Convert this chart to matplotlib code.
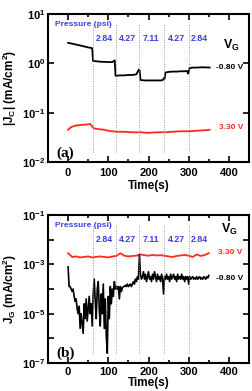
import numpy as np
import matplotlib
matplotlib.use("Agg")
import matplotlib.pyplot as plt
from matplotlib.ticker import FixedLocator, FuncFormatter, MultipleLocator

plt.rcParams['font.family'] = ['Liberation Sans', 'DejaVu Sans']
plt.rcParams['font.weight'] = 'bold'
plt.rcParams['mathtext.fontset'] = 'custom'
plt.rcParams['mathtext.rm'] = 'Liberation Sans:bold'
plt.rcParams['mathtext.it'] = 'Liberation Sans:bold'
plt.rcParams['mathtext.bf'] = 'Liberation Sans:bold'

# ---------------- data ----------------
# panel (a): |J_C| (mA/cm^2)
a_black_t = [0, 10, 20, 30, 40, 50, 58, 60, 62, 70, 80, 90, 100, 110, 114, 116, 118, 120, 130, 140,
             150, 160, 170, 174, 176, 178, 180, 190, 200, 210, 220, 230, 236, 238, 240, 242, 250, 260,
             270, 280, 290, 296, 298, 300, 302, 310, 320, 330, 340, 352]
a_black_v = [2.6, 2.5, 2.4, 2.3, 2.2, 2.1, 2.05, 2.0, 1.12, 1.1, 1.08, 1.07, 1.06, 1.06, 1.12, 1.15,
             0.56, 0.56, 0.57, 0.57, 0.58, 0.58, 0.6, 0.7, 0.75, 0.72, 0.46, 0.45, 0.45, 0.45, 0.45,
             0.45, 0.46, 0.5, 0.48, 0.65, 0.67, 0.68, 0.68, 0.69, 0.69, 0.7, 0.62, 0.65, 0.8, 0.82,
             0.82, 0.83, 0.83, 0.82]
a_red_t = [0, 5, 10, 20, 30, 40, 50, 55, 58, 62, 65, 70, 80, 90, 100, 110, 120, 140, 160, 180, 200,
           220, 240, 260, 280, 300, 320, 340, 352]
a_red_v = [0.045, 0.049, 0.052, 0.055, 0.056, 0.057, 0.058, 0.059, 0.055, 0.050, 0.048, 0.047, 0.046,
           0.045, 0.043, 0.042, 0.041, 0.041, 0.040, 0.040, 0.039, 0.040, 0.040, 0.041, 0.042, 0.042,
           0.043, 0.044, 0.045]

# panel (b): J_G (mA/cm^2), log10 values sampled every 2.5 s (black) and 10 s (red)
b_black_log = [-3.1, -3.9, -3.9, -4.0, -4.1, -4.0, -4.3, -4.5, -4.4, -4.8, -5.0, -4.7, -5.6, -5.0,
               -5.4, -5.8, -4.6, -5.2, -4.4, -5.3, -4.8, -4.3, -5.0, -4.6, -5.5, -4.2, -3.6, -4.5,
               -5.2, -4.0, -3.7, -4.8, -5.5, -4.2, -5.0, -3.8, -5.6, -4.4, -5.9, -6.6, -4.3, -5.2,
               -3.9, -4.6, -4.0, -4.3, -3.7, -4.0, -3.9, -4.0, -3.9, -4.4, -3.9, -4.1, -3.95, -3.9,
               -3.9, -3.85, -3.9, -3.8, -3.9, -3.85, -3.8, -3.9, -3.8, -3.7, -3.8, -3.6, -3.7, -3.5,
               -3.6, -2.6, -3.4, -3.6, -3.5, -3.3, -3.6, -3.4, -3.7, -3.5, -3.3, -3.6, -3.5, -3.7,
               -3.4, -3.6, -3.3, -3.5, -3.7, -3.4, -3.6, -3.5, -3.7, -3.4, -3.6, -4.2, -3.5, -3.6,
               -3.4, -3.6, -3.5, -3.7, -3.4, -3.6, -3.5, -3.4, -3.6, -3.5, -3.7, -3.4, -3.6, -3.5,
               -3.6, -3.4, -3.6, -3.5, -3.7, -3.5, -3.6, -3.5, -3.8, -3.5, -3.6, -3.55, -3.5, -3.6,
               -3.55, -3.6, -3.5, -3.6, -3.55, -3.5, -3.6, -3.55, -3.6, -3.5, -3.55, -3.6, -3.5,
               -3.55, -3.45]
b_black_dt = 2.5
b_red_log = [-2.55, -2.7, -2.68, -2.72, -2.7, -2.68, -2.72, -2.7, -2.68, -2.7, -2.72, -2.68, -2.66,
             -2.55, -2.65, -2.68, -2.66, -2.65, -2.6, -2.63, -2.65, -2.62, -2.64, -2.63, -2.65, -2.68,
             -2.7, -2.66, -2.64, -2.62, -2.65, -2.7, -2.6, -2.66, -2.62, -2.55]
b_red_dt = 10

# pressure steps
step_times = [61, 118, 176, 238, 300]
pressure_labels = ['2.84', '4.27', '7.11', '4.27', '2.84']
end_time = 355

# ---------------- figure ----------------
W, H = 252, 391
fig = plt.figure(figsize=(W / 100, H / 100), dpi=100)

def frac_box(l, t, r, b):
    return [l / W, 1 - b / H, (r - l) / W, (b - t) / H]

ax1 = fig.add_axes(frac_box(48, 14, 249, 162))
ax2 = fig.add_axes(frac_box(48, 215, 249, 363))

blue = '#3d3de6'
red = '#ff2a1a'

def sup(e):
    return r'$\mathbf{10^{%d}}$' % e

def style(ax, exps, labeled, xpad, lpad):
    ax.set_yscale('log')
    ax.set_xlim(-50, 450)
    ax.set_ylim(10.0 ** min(exps), 10.0 ** max(exps))
    ax.xaxis.set_major_locator(FixedLocator([0, 100, 200, 300, 400]))
    ax.xaxis.set_minor_locator(MultipleLocator(50))
    ax.yaxis.set_major_locator(FixedLocator([10.0 ** e for e in exps]))
    ax.yaxis.set_minor_locator(FixedLocator([]))
    ax.yaxis.set_major_formatter(FuncFormatter(
        lambda v, p: sup(int(round(np.log10(v)))) if int(round(np.log10(v))) in labeled else ''))
    ax.tick_params(which='both', direction='in', top=True, right=True, width=1.2,
                   labelsize=8)
    ax.tick_params(axis='x', pad=xpad)
    ax.tick_params(axis='y', pad=2)
    ax.tick_params(which='major', length=4)
    ax.tick_params(which='minor', length=2.5)
    for s in ax.spines.values():
        s.set_linewidth(1.5)
    ax.set_xlabel('Time(s)', fontsize=8.5, fontweight='bold', labelpad=lpad)
    for t in step_times:
        ax.axvline(t, ymin=0.07, ymax=0.93, color='#999999', lw=0.7, ls=(0, (1, 1.5)))
    ax.text(-32, 0.93, 'Pressure (psi)', transform=ax.get_xaxis_transform(), color=blue,
            fontsize=6, fontweight='bold', ha='left', va='center')
    bounds = step_times + [end_time]
    for i, lab in enumerate(pressure_labels):
        ax.text((bounds[i] + bounds[i + 1]) / 2, 0.835, lab, transform=ax.get_xaxis_transform(),
                color=blue, fontsize=6.3, fontweight='bold', ha='center', va='center')

# panel (a)
ax1.plot(a_black_t, a_black_v, color='black', lw=1.3)
ax1.plot(a_red_t, a_red_v, color=red, lw=1.3)
style(ax1, [-2, -1, 0, 1], [-2, -1, 0, 1], 4, 2)
ax1.set_ylabel(r'|J$_\mathbf{C}$| (mA/cm$^\mathbf{2}$)', fontsize=8.5, fontweight='bold', labelpad=2)
tr1 = ax1.get_xaxis_transform()
ax1.text(405, 0.79, r'V$_\mathbf{G}$', transform=tr1, fontsize=9, fontweight='bold',
         ha='center', va='center')
ax1.text(368, 0.64, '-0.80 V', transform=tr1, fontsize=6, fontweight='bold', ha='left', va='center')
ax1.text(376, 0.236, '3.30 V', transform=tr1, fontsize=6, fontweight='bold', color=red,
         ha='left', va='center')
ax1.text(-30, 0.06, '(a)', transform=tr1, fontsize=11, fontweight='bold',
         family=['Liberation Serif'], ha='left', va='center')

# panel (b)
b_black_t = np.arange(len(b_black_log)) * b_black_dt
b_red_t = np.arange(len(b_red_log)) * b_red_dt
ax2.plot(b_red_t, 10.0 ** np.array(b_red_log), color=red, lw=1.3)
ax2.plot(b_black_t, 10.0 ** np.array(b_black_log), color='black', lw=1.2)
style(ax2, [-7, -6, -5, -4, -3, -2, -1], [-7, -5, -3, -1], 3, 0)
ax2.set_ylabel(r'J$_\mathbf{G}$ (mA/cm$^\mathbf{2}$)', fontsize=8.5, fontweight='bold', labelpad=2)
tr2 = ax2.get_xaxis_transform()
ax2.text(402, 0.9, r'V$_\mathbf{G}$', transform=tr2, fontsize=9, fontweight='bold',
         ha='center', va='center')
ax2.text(372, 0.75, '3.30 V', transform=tr2, fontsize=6, fontweight='bold', color=red,
         ha='left', va='center')
ax2.text(368, 0.574, '-0.80 V', transform=tr2, fontsize=6, fontweight='bold', ha='left', va='center')
ax2.text(-30, 0.065, '(b)', transform=tr2, fontsize=11, fontweight='bold',
         family=['Liberation Serif'], ha='left', va='center')

fig.savefig('out.png', dpi=100)
